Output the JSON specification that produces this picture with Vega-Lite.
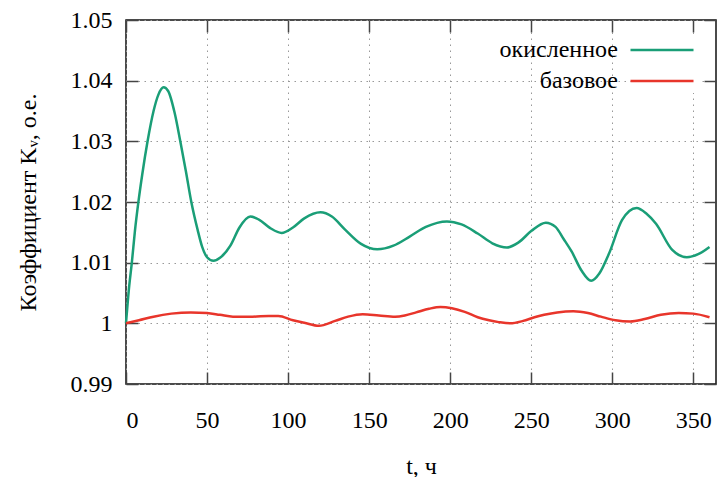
{
  "$schema": "https://vega.github.io/schema/vega-lite/v6.json",
  "width": 590,
  "height": 364,
  "autosize": "none",
  "padding": {"left": 126, "top": 20, "right": 1, "bottom": 93},
  "background": "white",
  "config": {
    "view": {"stroke": "#111", "strokeWidth": 1.5},
    "font": "Liberation Serif, Tinos, Times New Roman, DejaVu Serif, Noto Serif, serif",
    "axis": {
      "domain": false,
      "tickColor": "#444",
      "tickWidth": 1.5,
      "tickSize": -12,
      "gridColor": "#999",
      "gridDash": [1.5, 4.5],
      "gridWidth": 1,
      "labelFont": "Liberation Serif, Tinos, Times New Roman, DejaVu Serif, Noto Serif, serif",
      "labelFontSize": 24,
      "labelColor": "#000",
      "titleFont": "Liberation Serif, Tinos, Times New Roman, DejaVu Serif, Noto Serif, serif",
      "titleFontSize": 24,
      "titleFontWeight": "normal",
      "titleColor": "#000"
    },
    "legend": {
      "labelFont": "Liberation Serif, Tinos, Times New Roman, DejaVu Serif, Noto Serif, serif"
    }
  },
  "data": {
    "values": [
      {"t": 0, "k": 1.0, "s": "окисленное"},
      {"t": 2, "k": 1.0062, "s": "окисленное"},
      {"t": 3.6, "k": 1.01, "s": "окисленное"},
      {"t": 5.5, "k": 1.0152, "s": "окисленное"},
      {"t": 7.8, "k": 1.0203, "s": "окисленное"},
      {"t": 10, "k": 1.0245, "s": "окисленное"},
      {"t": 13.3, "k": 1.03, "s": "окисленное"},
      {"t": 17, "k": 1.035, "s": "окисленное"},
      {"t": 20, "k": 1.0377, "s": "окисленное"},
      {"t": 23.2, "k": 1.0389, "s": "окисленное"},
      {"t": 26, "k": 1.0383, "s": "окисленное"},
      {"t": 30, "k": 1.0347, "s": "окисленное"},
      {"t": 33.5, "k": 1.03, "s": "окисленное"},
      {"t": 37, "k": 1.025, "s": "окисленное"},
      {"t": 40.3, "k": 1.02, "s": "окисленное"},
      {"t": 44.2, "k": 1.0154, "s": "окисленное"},
      {"t": 47, "k": 1.0126, "s": "окисленное"},
      {"t": 50, "k": 1.0109, "s": "окисленное"},
      {"t": 54, "k": 1.0103, "s": "окисленное"},
      {"t": 58, "k": 1.0108, "s": "окисленное"},
      {"t": 64.4, "k": 1.0128, "s": "окисленное"},
      {"t": 70, "k": 1.0158, "s": "окисленное"},
      {"t": 76.7, "k": 1.0176, "s": "окисленное"},
      {"t": 82, "k": 1.0171, "s": "окисленное"},
      {"t": 89, "k": 1.0157, "s": "окисленное"},
      {"t": 96, "k": 1.0149, "s": "окисленное"},
      {"t": 103, "k": 1.0158, "s": "окисленное"},
      {"t": 110, "k": 1.0173, "s": "окисленное"},
      {"t": 120, "k": 1.0183, "s": "окисленное"},
      {"t": 127, "k": 1.0176, "s": "окисленное"},
      {"t": 135, "k": 1.0155, "s": "окисленное"},
      {"t": 145, "k": 1.0131, "s": "окисленное"},
      {"t": 155, "k": 1.0122, "s": "окисленное"},
      {"t": 165, "k": 1.0128, "s": "окисленное"},
      {"t": 175, "k": 1.0143, "s": "окисленное"},
      {"t": 185, "k": 1.0159, "s": "окисленное"},
      {"t": 198, "k": 1.0168, "s": "окисленное"},
      {"t": 207, "k": 1.0163, "s": "окисленное"},
      {"t": 217, "k": 1.0148, "s": "окисленное"},
      {"t": 226, "k": 1.0132, "s": "окисленное"},
      {"t": 235, "k": 1.0125, "s": "окисленное"},
      {"t": 242, "k": 1.0133, "s": "окисленное"},
      {"t": 250, "k": 1.0152, "s": "окисленное"},
      {"t": 259, "k": 1.0166, "s": "окисленное"},
      {"t": 265, "k": 1.0159, "s": "окисленное"},
      {"t": 270, "k": 1.0139, "s": "окисленное"},
      {"t": 275, "k": 1.0118, "s": "окисленное"},
      {"t": 281, "k": 1.0087, "s": "окисленное"},
      {"t": 287, "k": 1.007, "s": "окисленное"},
      {"t": 292, "k": 1.0082, "s": "окисленное"},
      {"t": 298, "k": 1.0115, "s": "окисленное"},
      {"t": 306, "k": 1.017, "s": "окисленное"},
      {"t": 315, "k": 1.019, "s": "окисленное"},
      {"t": 321, "k": 1.0181, "s": "окисленное"},
      {"t": 327, "k": 1.0164, "s": "окисленное"},
      {"t": 337, "k": 1.0121, "s": "окисленное"},
      {"t": 346, "k": 1.0109, "s": "окисленное"},
      {"t": 353, "k": 1.0114, "s": "окисленное"},
      {"t": 360, "k": 1.0126, "s": "окисленное"},
      {"t": 0, "k": 1.0, "s": "базовое"},
      {"t": 8, "k": 1.0005, "s": "базовое"},
      {"t": 17, "k": 1.0011, "s": "базовое"},
      {"t": 28, "k": 1.0016, "s": "базовое"},
      {"t": 40, "k": 1.0018, "s": "базовое"},
      {"t": 50, "k": 1.0017, "s": "базовое"},
      {"t": 58, "k": 1.0014, "s": "базовое"},
      {"t": 66, "k": 1.0011, "s": "базовое"},
      {"t": 78, "k": 1.0011, "s": "базовое"},
      {"t": 88, "k": 1.0012, "s": "базовое"},
      {"t": 94, "k": 1.0012, "s": "базовое"},
      {"t": 103, "k": 1.0005, "s": "базовое"},
      {"t": 110, "k": 1.0001, "s": "базовое"},
      {"t": 119, "k": 0.9996, "s": "базовое"},
      {"t": 129, "k": 1.0004, "s": "базовое"},
      {"t": 137, "k": 1.0011, "s": "базовое"},
      {"t": 146, "k": 1.0015, "s": "базовое"},
      {"t": 156, "k": 1.0013, "s": "базовое"},
      {"t": 166, "k": 1.0011, "s": "базовое"},
      {"t": 172, "k": 1.0013, "s": "базовое"},
      {"t": 179, "k": 1.0018, "s": "базовое"},
      {"t": 187, "k": 1.0024, "s": "базовое"},
      {"t": 194, "k": 1.0027, "s": "базовое"},
      {"t": 201, "k": 1.0025, "s": "базовое"},
      {"t": 209, "k": 1.0019, "s": "базовое"},
      {"t": 217, "k": 1.001, "s": "базовое"},
      {"t": 224, "k": 1.0005, "s": "базовое"},
      {"t": 230, "k": 1.0002, "s": "базовое"},
      {"t": 237, "k": 1.0, "s": "базовое"},
      {"t": 245, "k": 1.0004, "s": "базовое"},
      {"t": 252, "k": 1.001, "s": "базовое"},
      {"t": 258, "k": 1.0014, "s": "базовое"},
      {"t": 266, "k": 1.0018, "s": "базовое"},
      {"t": 276, "k": 1.002, "s": "базовое"},
      {"t": 285, "k": 1.0017, "s": "базовое"},
      {"t": 293, "k": 1.0011, "s": "базовое"},
      {"t": 302, "k": 1.0005, "s": "базовое"},
      {"t": 311, "k": 1.0003, "s": "базовое"},
      {"t": 320, "k": 1.0007, "s": "базовое"},
      {"t": 330, "k": 1.0014, "s": "базовое"},
      {"t": 341, "k": 1.0017, "s": "базовое"},
      {"t": 350, "k": 1.0016, "s": "базовое"},
      {"t": 360, "k": 1.001, "s": "базовое"}
    ]
  },
  "layer": [
    {
      "mark": {"type": "line", "strokeWidth": 2.5, "interpolate": "monotone"},
      "encoding": {
        "x": {
          "field": "t", "type": "quantitative",
          "scale": {"domain": [0, 364], "nice": false, "zero": false},
          "axis": {"orient": "bottom", "values": [0, 50, 100, 150, 200, 250, 300, 350], "grid": true, "title": "t, ч", "labelPadding": 36, "titlePadding": 22}
        },
        "y": {
          "field": "k", "type": "quantitative",
          "scale": {"domain": [0.99, 1.05], "nice": false, "zero": false},
          "axis": {"orient": "left", "values": [0.99, 1.0, 1.01, 1.02, 1.03, 1.04, 1.05], "format": ".2~f", "grid": true, "title": "Коэффициент Kᵥ, о.е.", "labelPadding": 26, "titlePadding": 30}
        },
        "color": {
          "field": "s", "type": "nominal",
          "scale": {"domain": ["окисленное", "базовое"], "range": ["#1a9e77", "#e8352b"]},
          "legend": {
            "orient": "none", "legendX": 524, "legendY": 18, "title": null,
            "symbolType": "M-3,0H3", "symbolSize": 441, "symbolStrokeWidth": 2.5,
            "labelAlign": "right", "labelOffset": -56, "labelFontSize": 24, "labelColor": "#000",
            "rowPadding": 7, "padding": 0, "fillColor": "white"
          }
        }
      }
    },
    {
      "mark": {"type": "line", "opacity": 0},
      "encoding": {
        "x": {"field": "t", "type": "quantitative", "axis": {"orient": "top", "values": [0, 50, 100, 150, 200, 250, 300, 350], "labels": false, "grid": false, "title": null}},
        "y": {"field": "k", "type": "quantitative", "axis": {"orient": "right", "values": [0.99, 1.0, 1.01, 1.02, 1.03, 1.04, 1.05], "labels": false, "grid": false, "title": null}},
        "detail": {"field": "s"}
      }
    }
  ],
  "resolve": {"axis": {"x": "independent", "y": "independent"}}
}
